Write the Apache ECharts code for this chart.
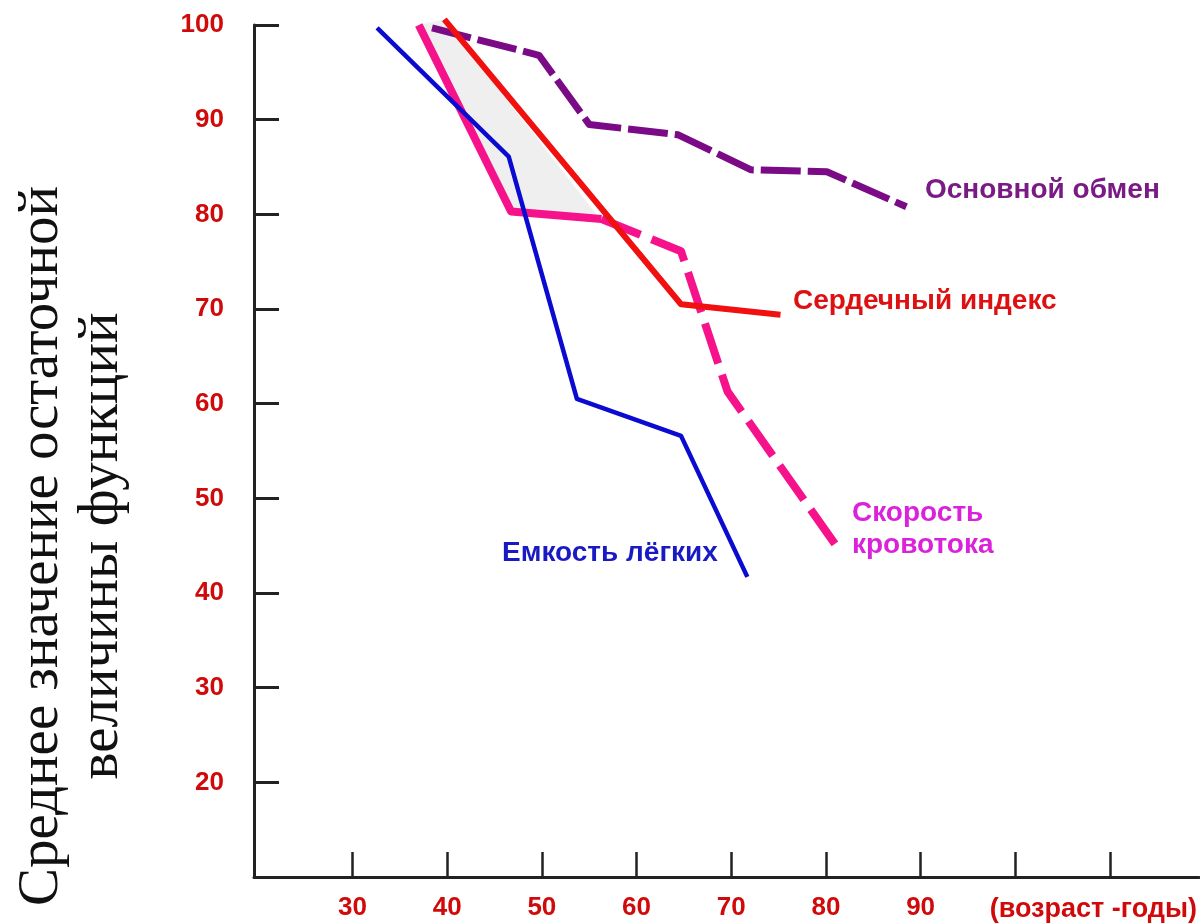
<!DOCTYPE html>
<html>
<head>
<meta charset="utf-8">
<script src="https://cdn.jsdelivr.net/npm/echarts@6/dist/echarts.min.js"></script>
<style>
html,body{margin:0;padding:0;background:#fff;}
#chart{width:1200px;height:924px;}
</style>
</head>
<body>
<div id="chart"></div>
<script>
// ---- data ----
const xTicks = [30, 40, 50, 60, 70, 80, 90, 100, 110];
const xTickLabels = [30, 40, 50, 60, 70, 80, 90];
const yTickLabels = [20, 30, 40, 50, 60, 70, 80, 90, 100];

// Емкость лёгких
const lungYears = [32.6, 46.5, 53.7, 64.7, 71.7];
const lungValues = [99.7, 86.1, 60.5, 56.6, 41.7];

// Скорость кровотока (solid part, then dashed part)
const flowSolidYears = [37.0, 46.75, 56.3];
const flowSolidValues = [100, 80.3, 79.5];
const flowDashYears = [56.3, 64.7, 69.6, 81.5];
const flowDashValues = [79.5, 76.1, 61.3, 44.4];

// Сердечный индекс
const heartYears = [39.7, 64.7, 75.2];
const heartValues = [100.6, 70.5, 69.4];

// Основной обмен
const bmrYears = [38.4, 49.7, 55.0, 64.4, 72.1, 80.1, 88.5];
const bmrValues = [99.7, 96.8, 89.5, 88.4, 84.7, 84.5, 80.8];

// shaded area between curves
const shadeYears = [37.0, 39.7, 56.0, 46.75];
const shadeValues = [100, 100.6, 79.7, 80.3];

const zip = (xs, ys) => xs.map((x, i) => [x, ys[i]]);

const labelFont = "'Liberation Sans', Arial, sans-serif";
const tickRed = '#d00a0a';

const chart = echarts.init(document.getElementById('chart'), null, {renderer: 'canvas'});

const option = {
  animation: false,
  backgroundColor: '#ffffff',
  grid: {left: 254, right: 0, top: 25, bottom: 47, containLabel: false},
  xAxis: {
    type: 'value',
    min: 19.6,
    max: 119.4,
    splitLine: {show: false},
    axisLine: {show: true, onZero: false, lineStyle: {color: '#222', width: 3}},
    axisTick: {show: true, inside: true, length: 25, customValues: xTicks, lineStyle: {color: '#222', width: 2.5}},
    axisLabel: {
      show: true, customValues: xTickLabels, margin: 18,
      color: tickRed, fontSize: 26, fontWeight: 'bold', fontFamily: labelFont
    },
    name: '(возраст -годы)',
    nameLocation: 'end',
    nameGap: -2,
    nameTextStyle: {
      color: tickRed, fontSize: 27, fontWeight: 'bold', fontFamily: labelFont,
      align: 'right', verticalAlign: 'top', padding: [19, 0, 0, 0]
    }
  },
  yAxis: {
    type: 'value',
    min: 10,
    max: 100,
    interval: 10,
    splitLine: {show: false},
    axisLine: {show: true, lineStyle: {color: '#222', width: 3}},
    axisTick: {show: true, inside: true, length: 25, customValues: yTickLabels, lineStyle: {color: '#222', width: 3}},
    axisLabel: {
      show: true, customValues: yTickLabels, margin: 30,
      color: tickRed, fontSize: 26, fontWeight: 'bold', fontFamily: labelFont
    }
  },
  series: [
    {
      type: 'custom',
      z: 1,
      data: [[shadeYears[0], shadeValues[0]]],
      renderItem: function (params, api) {
        if (params.dataIndex !== 0) return null;
        const pts = shadeYears.map((x, i) => api.coord([x, shadeValues[i]]));
        return {type: 'polygon', shape: {points: pts}, style: {fill: '#efefef', stroke: null}};
      },
      silent: true
    },
    {
      name: 'Основной обмен', type: 'line', z: 2, clip: false,
      data: zip(bmrYears, bmrValues), symbol: 'none',
      lineStyle: {color: '#7a0a86', width: 7, type: [40, 7], cap: 'butt', join: 'round'}
    },
    {
      name: 'Скорость кровотока', type: 'line', z: 3, clip: false,
      data: zip(flowSolidYears, flowSolidValues), symbol: 'none',
      lineStyle: {color: '#f5128a', width: 8, join: 'round'}
    },
    {
      name: 'Скорость кровотока (пунктир)', type: 'line', z: 3, clip: false,
      data: zip(flowDashYears, flowDashValues), symbol: 'none',
      lineStyle: {color: '#f5128a', width: 8, type: [42, 12], cap: 'butt', join: 'round'}
    },
    {
      name: 'Емкость лёгких', type: 'line', z: 4, clip: false,
      data: zip(lungYears, lungValues), symbol: 'none',
      lineStyle: {color: '#0a0ad0', width: 4.5, join: 'round'}
    },
    {
      name: 'Сердечный индекс', type: 'line', z: 5, clip: false,
      data: zip(heartYears, heartValues), symbol: 'none',
      lineStyle: {color: '#f01010', width: 6, join: 'round'}
    }
  ],
  graphic: [
    {
      type: 'text', x: 72, y: 546, rotation: Math.PI / 2,
      style: {
        text: 'Среднее значение остаточной\nвеличины функций',
        font: "57px 'Liberation Serif', 'Times New Roman', serif",
        fill: '#111', align: 'center', verticalAlign: 'middle', lineHeight: 60
      }
    },
    {type: 'text', x: 925, y: 190, style: {text: 'Основной обмен', font: "bold 28px 'Liberation Sans', Arial, sans-serif", fill: '#7a1a84', align: 'left', verticalAlign: 'middle'}},
    {type: 'text', x: 793, y: 301, style: {text: 'Сердечный индекс', font: "bold 28px 'Liberation Sans', Arial, sans-serif", fill: '#dd1111', align: 'left', verticalAlign: 'middle'}},
    {type: 'text', x: 852, y: 513, style: {text: 'Скорость', font: "bold 28px 'Liberation Sans', Arial, sans-serif", fill: '#da22da', align: 'left', verticalAlign: 'middle'}},
    {type: 'text', x: 852, y: 545, style: {text: 'кровотока', font: "bold 28px 'Liberation Sans', Arial, sans-serif", fill: '#da22da', align: 'left', verticalAlign: 'middle'}},
    {type: 'text', x: 502, y: 553, style: {text: 'Емкость лёгких', font: "bold 28px 'Liberation Sans', Arial, sans-serif", fill: '#1a1ac4', align: 'left', verticalAlign: 'middle'}}
  ]
};
chart.setOption(option);
</script>
</body>
</html>
